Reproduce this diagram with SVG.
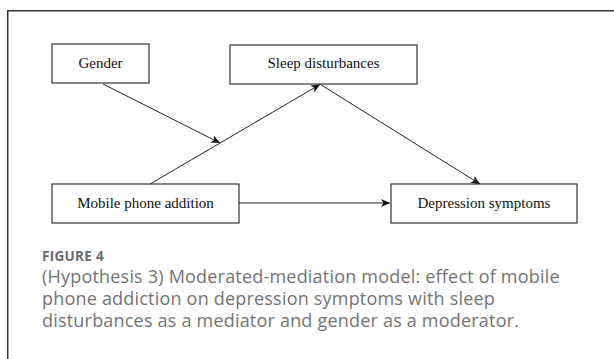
<svg xmlns="http://www.w3.org/2000/svg" width="614" height="359" viewBox="0 0 614 359">
<style>
.box{fill:#fff;stroke:#333;stroke-width:1.2}
.lbl{font-family:"Liberation Serif","Times New Roman",serif;font-size:15px;fill:#111;text-anchor:middle}
.con{stroke:#222;stroke-width:1;fill:none;marker-end:url(#ah)}
.cap{font-family:"Open Sans","Noto Sans",sans-serif;font-size:18px;letter-spacing:0.2px;fill:#737373}
.fig{font-family:"Open Sans","Noto Sans",sans-serif;font-size:13.5px;font-weight:bold;letter-spacing:0.3px;fill:#6b6b6b}
</style>
<defs>
<marker id="ah" markerWidth="10" markerHeight="10" refX="9" refY="4" orient="auto" markerUnits="userSpaceOnUse">
<path d="M0,0 L9,4 L0,8 L2.5,4 z" fill="#111"/>
</marker>
</defs>
<rect width="614" height="359" fill="#fff"/>
<path d="M7.7,359 V10.7 H614" fill="none" stroke="#333" stroke-width="1.5"/>
<g id="gender"><rect class="box" x="52" y="44" width="97" height="39"/><text class="lbl" x="100.5" y="67.5">Gender</text></g>
<g id="sleep"><rect class="box" x="230" y="45" width="187" height="39"/><text class="lbl" x="323.5" y="68">Sleep disturbances</text></g>
<g id="mobile"><rect class="box" x="52" y="184" width="187" height="39"/><text class="lbl" x="145.5" y="207.5">Mobile phone addition</text></g>
<g id="depression"><rect class="box" x="391" y="184" width="186" height="39"/><text class="lbl" x="484" y="207.5">Depression symptoms</text></g>
<g id="connectors">
<line class="con" x1="103" y1="84" x2="220" y2="143"/>
<line class="con" x1="150" y1="184" x2="320" y2="84.5"/>
<line class="con" x1="320.5" y1="84.5" x2="480" y2="184"/>
<line class="con" x1="239" y1="203" x2="390" y2="203"/>
</g>
<g id="caption">
<text class="fig" x="42" y="261">FIGURE 4</text>
<text class="cap" x="42" y="283">(Hypothesis 3) Moderated-mediation model: effect of mobile</text>
<text class="cap" x="42" y="305">phone addiction on depression symptoms with sleep</text>
<text class="cap" x="42" y="327">disturbances as a mediator and gender as a moderator.</text>
</g>
</svg>
